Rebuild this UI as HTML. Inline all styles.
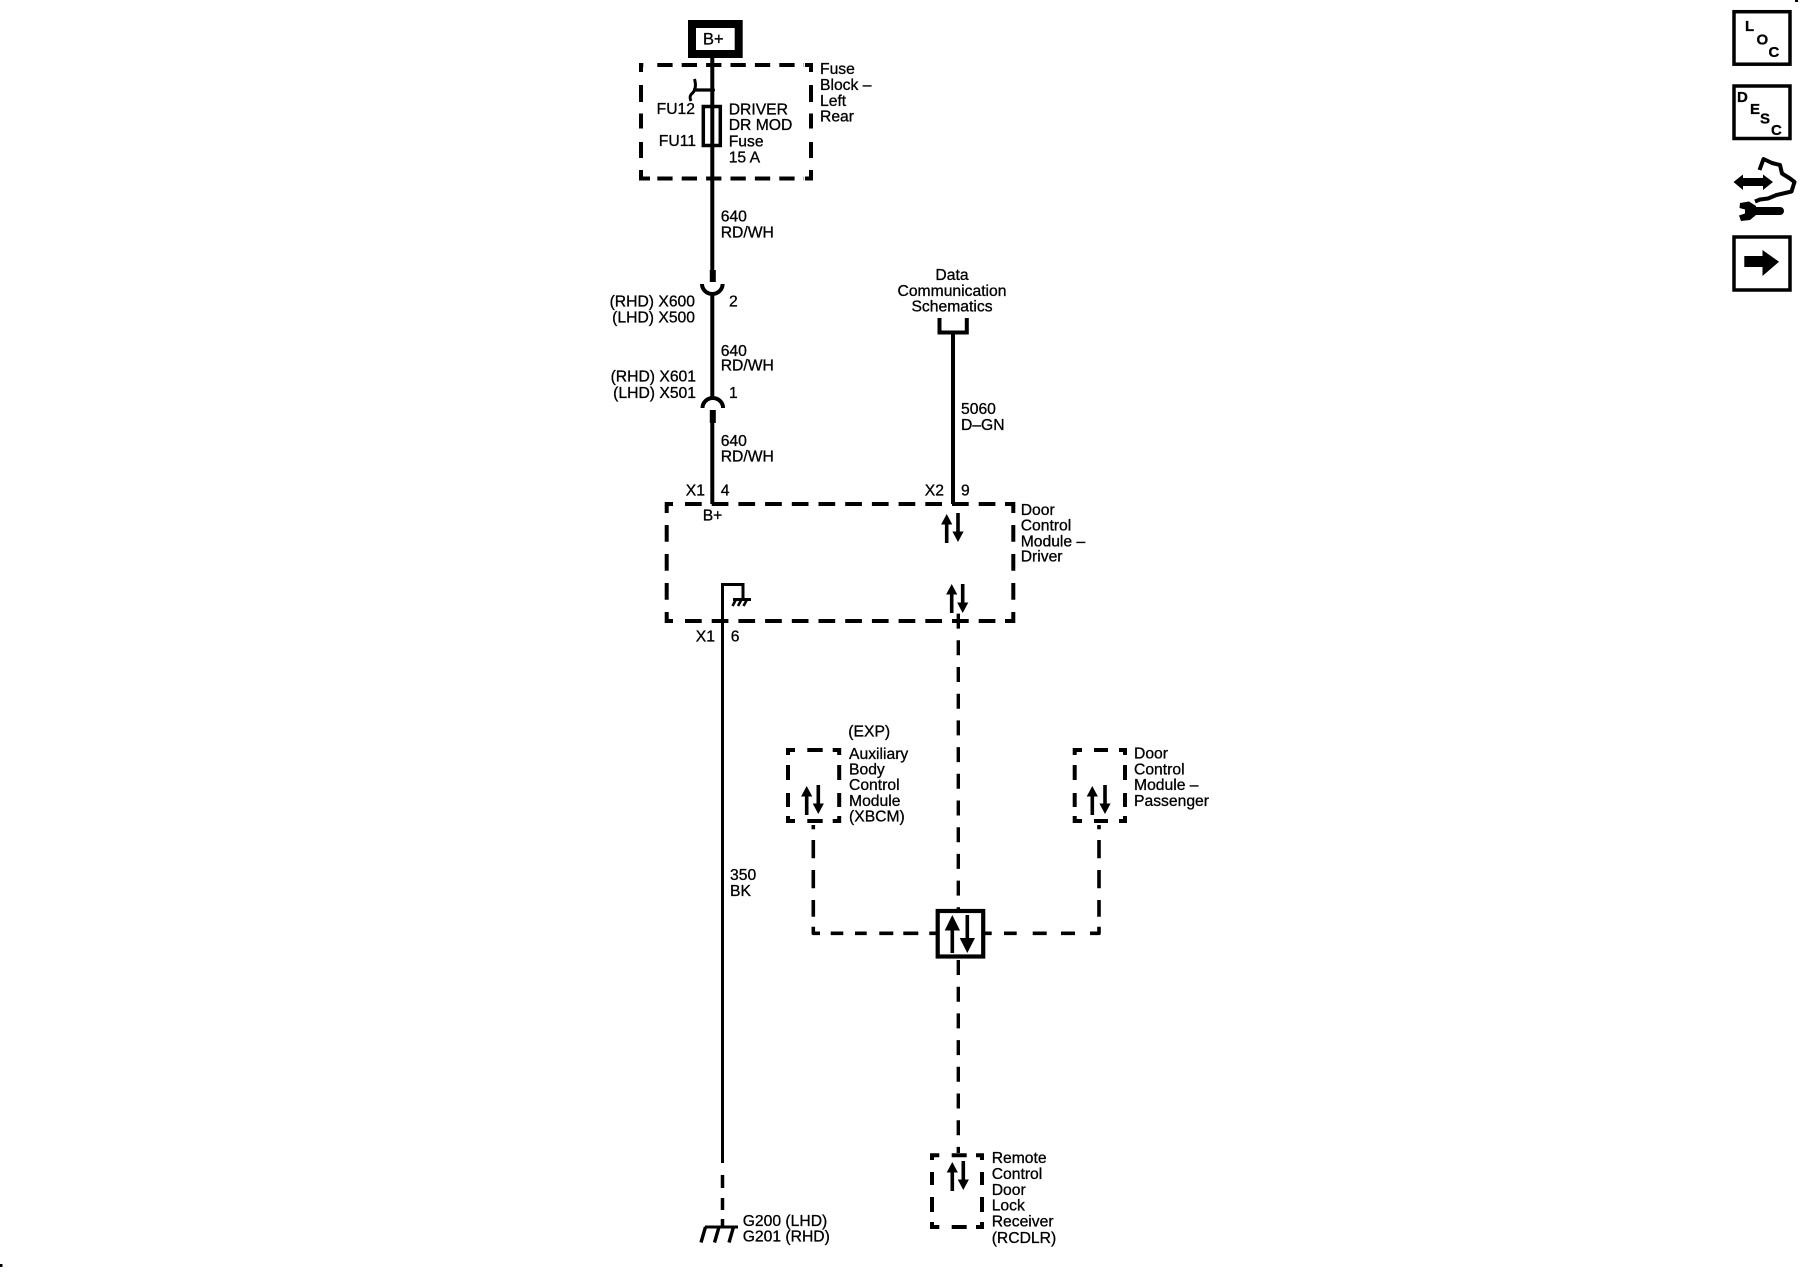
<!DOCTYPE html>
<html><head><meta charset="utf-8"><style>
html,body{margin:0;padding:0;background:#fff;width:1800px;height:1280px;overflow:hidden}
svg{display:block}
text{font-family:"Liberation Sans",sans-serif;font-size:15.7px;fill:#000;stroke:#000;stroke-width:.3px}
.e{text-anchor:end}.m{text-anchor:middle}
.b{font-weight:bold;font-size:15px;stroke-width:.3px}
</style></head><body>
<svg width="1800" height="1280" viewBox="0 0 1800 1280" xmlns="http://www.w3.org/2000/svg">
<defs>
<g id="au"><rect x="-1.8" y="9" width="3.6" height="20"/><polygon points="0,0 5.6,10.5 -5.6,10.5"/></g>
<g id="ad"><rect x="-1.8" y="0" width="3.6" height="20"/><polygon points="0,29 5.6,18.5 -5.6,18.5"/></g>
</defs>
<rect width="1800" height="1280" fill="#fff"/>
<g fill="none" stroke="#000">
<!-- B+ -->
<rect x="692" y="24" width="46.7" height="30" stroke-width="8"/>
<!-- wires -->
<path d="M712.3 57V270" stroke-width="4"/>
<path d="M712.8 270V282" stroke-width="6"/>
<path d="M702 284a10.3 10 0 0 0 20.6 0" stroke-width="4"/>
<path d="M712.3 294V398" stroke-width="4"/>
<path d="M702.5 408a10.3 10 0 0 1 20.6 0" stroke-width="4"/>
<path d="M712.8 410V423" stroke-width="6"/>
<path d="M712.3 423V504" stroke-width="4"/>
<!-- fuse -->
<rect x="703.3" y="106.5" width="17" height="39" stroke-width="3.5"/>
<path d="M693 90H713" stroke-width="3.2"/>
<path d="M694.5 79C697 88 694 92 691.5 94C689.5 96 690 99 691 101" stroke-width="3"/>
<!-- fuse block dashed -->
<g stroke-width="4">
<path d="M643.3 65H641V72M641 170V178.5H650M805 65H811V72M811 170V178.5H805"/>
<path d="M641 85V102M641 113.5V128.5M641 142V158M811 85V102M811 113.5V128.5M811 142V158"/>
<path d="M657.3 65H804M657.3 178.5H804" stroke-dasharray="15.3 9.1"/>
</g>
<!-- bracket + data wire -->
<path d="M939.5 318V332.5H966.8V318" stroke-width="4"/>
<path d="M953 332V504" stroke-width="4"/>
<!-- door module dashed -->
<g stroke-width="4">
<path d="M673 504H666.7V513M673 621H666.7V612M1005 504H1013.3V513M1005 621H1013.3V612"/>
<path d="M685 504H1005M685 621H1005" stroke-dasharray="16.7 10"/>
<path d="M666.7 525V600M1013.3 525V600" stroke-dasharray="16.7 12.3"/>
</g>
<!-- ground wire -->
<path d="M722.5 1163V584.5H743V598" stroke-width="3"/>
<path d="M722.5 1175V1188M722.5 1198V1210M722.5 1219V1226" stroke-width="3.5"/>
<path d="M733 599.5H751" stroke-width="3"/>
<path d="M736 599.5L732.5 606M741.5 599.5L738 606M747 599.5L743.5 606" stroke-width="2.6"/>
<path d="M705 1227H738" stroke-width="3"/>
<path d="M705.5 1227L701 1242.5M719 1227L714.5 1242.5M733.5 1227L729 1242.5" stroke-width="3.4"/>
<!-- central dashed wire -->
<path d="M958.3 613.6V909" stroke-width="3.4" stroke-dasharray="15 11.7"/>
<path d="M958.3 960V1153" stroke-width="3.4" stroke-dasharray="15 11.7"/>
<!-- small module boxes -->
<g stroke-width="4">
<path d="M795 750H788V755M832.7 750H839.2V755M795 821H788V816M832.7 821H839.2V816M807.3 750H822.7M807.3 821H822.7M788 765V780M788 793V807M839.2 765V780M839.2 793V807"/>
<path d="M1082 750H1074.7V755M1119 750H1125V755M1082 821H1074.7V816M1119 821H1125V816M1094 750H1108M1094 821H1108M1074.7 765V780M1074.7 793V807M1125 765V780M1125 793V807"/>
<path d="M939.3 1155.3H932V1160M976 1155.3H982V1160M939.3 1227H932V1222M976 1227H982V1222M951.7 1155.3H966.7M951.7 1227H966.7M932 1172V1185M932 1197V1212M982 1172V1185M982 1197V1212"/>
</g>
<!-- tie lines -->
<g stroke-width="3.6" stroke-linejoin="round">
<path d="M813.3 825V829.3M813.3 840V858.3M813.3 870V888.3M813.3 900V916.7M813.3 926.7V933.3H820M830.7 933.3H843.3M855 933.3H866.7M879.3 933.3H893.3M903.3 933.3H918.3M929.3 933.3H936"/>
<path d="M1099 825V829.3M1099 840V858.3M1099 870V888.3M1099 900V916.7M1099 926.7V933.3H1090M1075 933.3H1061M1046.7 933.3H1032.7M1016.7 933.3H1004M991.7 933.3H985"/>
</g>
<!-- central box -->
<rect x="937.7" y="911" width="45.5" height="45.5" stroke-width="4.2" fill="#fff"/>
<!-- icon boxes -->
<rect x="1734" y="11.7" width="56" height="52.5" stroke-width="3.5"/>
<rect x="1734" y="86" width="56" height="52.5" stroke-width="3.5"/>
<rect x="1734" y="237" width="56" height="53" stroke-width="3.5"/>
<path d="M1759.5 170L1763.5 159L1772 163L1780 165L1782 173.5L1790 178.5L1794.5 182L1791.5 191.5L1776.5 195L1768 198.5L1760 199.5L1755 201.5" stroke-width="4" stroke-linejoin="round"/>
<path d="M1750 211H1780" stroke-width="8" stroke-linecap="round"/>
</g>
<!-- arrows -->
<g fill="#000">
<use href="#au" x="946.7" y="514"/><use href="#ad" x="958" y="513"/>
<use href="#au" x="951.7" y="584"/><use href="#ad" x="962.7" y="584"/>
<use href="#au" x="806.7" y="786"/><use href="#ad" x="818.3" y="785"/>
<use href="#au" x="1092.3" y="786"/><use href="#ad" x="1105" y="785"/>
<use href="#au" x="952.3" y="1162"/><use href="#ad" x="963.3" y="1161"/>
<!-- central arrows -->
<rect x="950.5" y="925" width="3.6" height="28"/><polygon points="952.3,915 960,930.5 944.7,930.5"/>
<rect x="965.5" y="915" width="3.6" height="28"/><polygon points="967.3,953 975,938 959.7,938"/>
<!-- nav arrow -->
<rect x="1744.3" y="256" width="19" height="11"/><polygon points="1762.5,250 1779,261.7 1762.5,276"/>
<!-- double arrow -->
<rect x="1740" y="178" width="26" height="8"/>
<polygon points="1733.5,182 1743,174.5 1743,190"/><polygon points="1773,182 1763,174.5 1763,190"/>
<!-- wrench -->
<path d="M1740 203L1749 201.5L1756 206V215L1750 220L1741 221L1739 215.5L1745 213.5V209.5L1739.5 208Z"/>
<!-- stray -->
<rect x="0" y="1264" width="2.5" height="3"/>
<rect x="1795" y="0" width="3" height="2"/>
<circle cx="712.5" cy="90" r="2.5"/>
</g>
<!-- text -->
<text x="703" y="44.5" style="font-size:16.5px">B+</text>
<text class="e" x="695" y="114">FU12</text>
<text class="e" x="696" y="146">FU11</text>
<text x="728.7" y="114.3">DRIVER</text>
<text x="728.7" y="130">DR MOD</text>
<text x="728.7" y="146.7">Fuse</text>
<text x="728.7" y="162.7">15 A</text>
<text x="820" y="74">Fuse</text>
<text x="820" y="90">Block –</text>
<text x="820" y="106">Left</text>
<text x="820" y="121.7">Rear</text>
<text x="720.7" y="221.7">640</text>
<text x="720.7" y="237.3">RD/WH</text>
<text class="e" x="695" y="306.7">(RHD) X600</text>
<text class="e" x="695" y="322.7">(LHD) X500</text>
<text x="729" y="306.7">2</text>
<text x="720.7" y="356">640</text>
<text x="720.7" y="370.7">RD/WH</text>
<text class="e" x="696" y="381.7">(RHD) X601</text>
<text class="e" x="696" y="398">(LHD) X501</text>
<text x="729" y="398">1</text>
<text x="720.7" y="446">640</text>
<text x="720.7" y="461.7">RD/WH</text>
<text class="e" x="705" y="495.7">X1</text>
<text x="720.7" y="495.7">4</text>
<text class="e" x="944" y="495.7">X2</text>
<text x="961" y="495.7">9</text>
<text class="m" x="952" y="280">Data</text>
<text class="m" x="952" y="296">Communication</text>
<text class="m" x="952" y="311.7">Schematics</text>
<text x="961" y="414">5060</text>
<text x="961" y="430">D–GN</text>
<text x="702.7" y="520.7">B+</text>
<text x="1020.7" y="515">Door</text>
<text x="1020.7" y="530.7">Control</text>
<text x="1020.7" y="546.7">Module –</text>
<text x="1020.7" y="561.7">Driver</text>
<text class="e" x="715" y="641.7">X1</text>
<text x="730.7" y="641.7">6</text>
<text x="730" y="880">350</text>
<text x="730" y="896">BK</text>
<text x="848.3" y="736.7">(EXP)</text>
<text x="849" y="759">Auxiliary</text>
<text x="849" y="774.7">Body</text>
<text x="849" y="790">Control</text>
<text x="849" y="806">Module</text>
<text x="849" y="821.7">(XBCM)</text>
<text x="1134" y="758.3">Door</text>
<text x="1134" y="774.7">Control</text>
<text x="1134" y="790">Module –</text>
<text x="1134" y="806">Passenger</text>
<text x="991.7" y="1163">Remote</text>
<text x="991.7" y="1179">Control</text>
<text x="991.7" y="1195">Door</text>
<text x="991.7" y="1210.7">Lock</text>
<text x="991.7" y="1226.7">Receiver</text>
<text x="991.7" y="1243">(RCDLR)</text>
<text x="742.7" y="1226">G200 (LHD)</text>
<text x="742.7" y="1241.7">G201 (RHD)</text>
<text class="b" x="1745" y="31">L</text>
<text class="b" x="1756.5" y="44.5">O</text>
<text class="b" x="1768.5" y="57">C</text>
<text class="b" x="1737" y="102">D</text>
<text class="b" x="1750" y="114">E</text>
<text class="b" x="1760" y="123.5">S</text>
<text class="b" x="1771" y="135">C</text>
</svg>
</body></html>
